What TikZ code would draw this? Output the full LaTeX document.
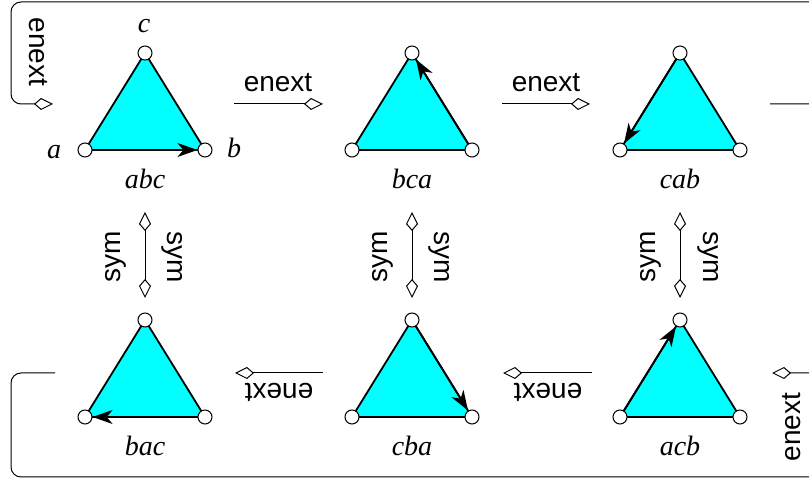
\documentclass[tikz,border=0pt]{standalone}
\usepackage{fontspec}
\setmainfont{Liberation Serif}
\setsansfont{Liberation Sans}
\usetikzlibrary{arrows.meta}

\definecolor{tricyan}{RGB}{0,255,255}
\tikzset{
  tri/.style={fill=tricyan, draw=black, line width=0.9pt, line join=round},
  dir/.style={line width=0.9pt, -{Stealth[length=10pt,width=7pt,inset=3pt]}, shorten >=3.8pt},
  oneway/.style={line width=0.5pt, -{Kite[open,length=9.5pt,width=6pt,inset=3.5pt]}},
  twoway/.style={line width=0.5pt, {Kite[open,length=9.5pt,width=6pt,inset=3.5pt]}-{Kite[open,length=9.5pt,width=6pt,inset=3.5pt]}},
  loop/.style={oneway, rounded corners=5pt},
  word/.style={font=\fontsize{14}{16}\selectfont\sffamily, inner sep=0pt},
  perm/.style={font=\fontsize{14}{16}\selectfont\itshape, inner sep=0pt}
}

\begin{document}
\begin{tikzpicture}[x=0.5pt,y=-0.5pt]
\useasboundingbox (0,0) rectangle (809,480);

\coordinate (a1) at (85,150);
\coordinate (b1) at (205,150);
\coordinate (c1) at (145,53);
\coordinate (a2) at (352,150);
\coordinate (b2) at (472,150);
\coordinate (c2) at (412,53);
\coordinate (a3) at (620,150);
\coordinate (b3) at (740,150);
\coordinate (c3) at (680,53);
\coordinate (a4) at (85,417);
\coordinate (b4) at (205,417);
\coordinate (c4) at (145,320);
\coordinate (a5) at (352,417);
\coordinate (b5) at (472,417);
\coordinate (c5) at (412,320);
\coordinate (a6) at (620,417);
\coordinate (b6) at (740,417);
\coordinate (c6) at (680,320);

% pomozne tocke
\coordinate (p1) at (234,104);
\coordinate (q1) at (323,104);
\coordinate (p2) at (502,104);
\coordinate (q2) at (590,104);
\coordinate (p3) at (323,373);
\coordinate (q3) at (235,373);
\coordinate (p4) at (592,373);
\coordinate (q4) at (503,373);
\coordinate (p5) at (770,104);
\coordinate (q5) at (53,104);
\coordinate (p6) at (55,373);
\coordinate (q6) at (772,373);
\coordinate (s1) at (145,298);
\coordinate (t1) at (145,212);
\coordinate (s2) at (412,298);
\coordinate (t2) at (412,212);
\coordinate (s3) at (680,298);
\coordinate (t3) at (680,212);

\foreach \t in {1,...,6}
\filldraw[tri] (a\t)--(b\t)--(c\t)--cycle;

\draw[dir] (a1)--(b1);
\draw[dir] (b2)--(c2);
\draw[dir] (c3)--(a3);
\draw[dir] (b4)--(a4);
\draw[dir] (c5)--(b5);
\draw[dir] (a6)--(c6);

\foreach \t in {1,...,6}
\foreach \v in {a,b,c}
\draw[fill=white, line width=0.5pt] (\v\t) circle (3.5pt);

\draw[oneway] (p1)--(q1);
\draw[oneway] (p2)--(q2);
\draw[oneway] (p3)--(q3);
\draw[oneway] (p4)--(q4);
\draw[loop] (p5)--(822,104)--(822,2)--(11,2)--(11,104)--(q5);
\draw[loop] (p6)--(11,373)--(11,477)--(822,477)--(822,373)--(q6);
\draw[twoway] (s1)--(t1);
\draw[twoway] (s2)--(t2);
\draw[twoway] (s3)--(t3);

\node[perm] (la) at (54,152) {a};
\node[perm] (lb) at (234,148) {b};
\node[perm] (lc) at (144,26) {c};
\node[perm] (abc) at (145,179) {abc};
\node[perm] (bca) at (412,179) {bca};
\node[perm] (cab) at (680,179) {cab};
\node[perm] (bac) at (145,446) {bac};
\node[perm] (cba) at (412,446) {cba};
\node[perm] (acb) at (680,446) {acb};

\node[word] (n1) at (278,83) {enext};
\node[word] (n2) at (546,83) {enext};
\node[word,rotate=180] (n3) at (279,392) {enext};
\node[word,rotate=180] (n4) at (548,392) {enext};
\node[word,rotate=-90] (n5) at (38,52) {enext};
\node[word,rotate=90] (n6) at (792,427) {enext};
\node[word,rotate=90] (m1) at (116,257) {sym};
\node[word,rotate=-90] (m2) at (172,257) {sym};
\node[word,rotate=90] (m3) at (383,257) {sym};
\node[word,rotate=-90] (m4) at (439,257) {sym};
\node[word,rotate=90] (m5) at (651,257) {sym};
\node[word,rotate=-90] (m6) at (708,257) {sym};
\end{tikzpicture}
\end{document}
